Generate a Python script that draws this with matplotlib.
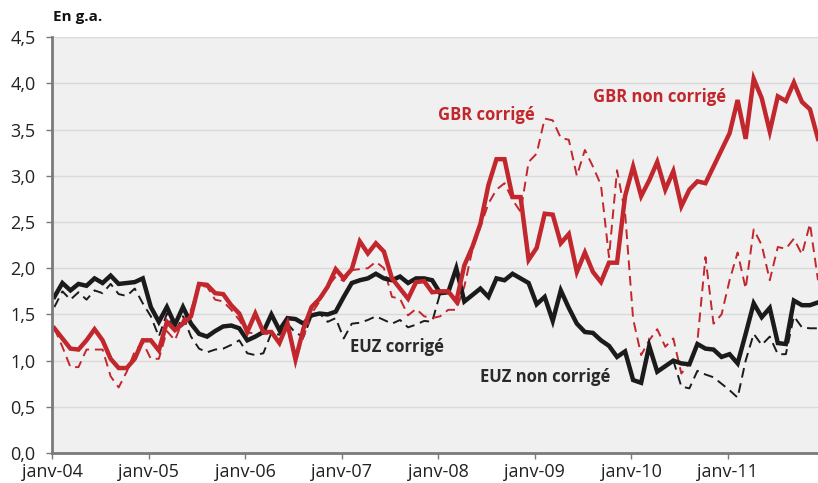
import numpy as np
import matplotlib.pyplot as plt

plt.rcParams['font.family'] = ['Open Sans', 'DejaVu Sans']

# monthly, janv-04 .. dec-11
euz_non_corrige = [1.69, 1.84, 1.76, 1.83, 1.81, 1.89, 1.84, 1.92, 1.83, 1.84, 1.85, 1.89,
                   1.58, 1.42, 1.58, 1.39, 1.58, 1.40, 1.29, 1.26, 1.32, 1.37, 1.38, 1.35,
                   1.22, 1.26, 1.31, 1.50, 1.33, 1.46, 1.45, 1.40, 1.49, 1.51, 1.50, 1.53,
                   1.69, 1.84, 1.87, 1.89, 1.94, 1.89, 1.87, 1.91, 1.84, 1.89, 1.89, 1.87,
                   1.73, 1.74, 2.00, 1.64, 1.71, 1.78, 1.69, 1.89, 1.87, 1.94, 1.89, 1.84,
                   1.61, 1.69, 1.43, 1.76, 1.57, 1.40, 1.31, 1.30, 1.22, 1.16, 1.04, 1.10,
                   0.79, 0.76, 1.16, 0.88, 0.94, 1.00, 0.97, 0.96, 1.18, 1.13, 1.12, 1.04,
                   1.07, 0.97, 1.29, 1.62, 1.47, 1.57, 1.19, 1.18, 1.65, 1.60, 1.60, 1.63]

euz_corrige = [1.58, 1.75, 1.66, 1.74, 1.66, 1.76, 1.73, 1.83, 1.72, 1.70, 1.78, 1.62,
               1.48, 1.26, 1.51, 1.30, 1.48, 1.26, 1.13, 1.09, 1.12, 1.13, 1.17, 1.22,
               1.08, 1.06, 1.08, 1.30, 1.28, 1.40, 1.30, 1.26, 1.48, 1.51, 1.42, 1.46,
               1.24, 1.40, 1.41, 1.44, 1.48, 1.44, 1.40, 1.44, 1.36, 1.39, 1.43, 1.42,
               1.73, 1.74, 2.00, 1.64, 1.71, 1.78, 1.69, 1.89, 1.87, 1.94, 1.89, 1.84,
               1.61, 1.69, 1.43, 1.76, 1.57, 1.40, 1.31, 1.30, 1.22, 1.16, 1.04, 1.10,
               0.79, 0.76, 1.16, 0.88, 0.94, 1.00, 0.72, 0.70, 0.89, 0.85, 0.82, 0.75,
               0.68, 0.60, 1.00, 1.29, 1.17, 1.26, 1.07, 1.07, 1.48, 1.36, 1.35, 1.35]

gbr_non_corrige = [1.35, 1.24, 1.13, 1.12, 1.22, 1.34, 1.22, 1.02, 0.92, 0.92, 1.02, 1.22,
                   1.22, 1.11, 1.42, 1.33, 1.40, 1.48, 1.83, 1.82, 1.73, 1.72, 1.60, 1.51,
                   1.31, 1.51, 1.31, 1.31, 1.19, 1.40, 1.01, 1.35, 1.58, 1.67, 1.80, 1.99,
                   1.89, 1.99, 2.29, 2.16, 2.27, 2.18, 1.89, 1.78, 1.67, 1.85, 1.86, 1.74,
                   1.75, 1.75, 1.64, 2.03, 2.23, 2.48, 2.90, 3.18, 3.18, 2.77, 2.77, 2.09,
                   2.22, 2.59, 2.58, 2.27, 2.37, 1.96, 2.17, 1.96, 1.85, 2.06, 2.06, 2.78,
                   3.10, 2.78, 2.95, 3.15, 2.85, 3.05, 2.67, 2.85, 2.94, 2.92, 3.10, 3.28,
                   3.46, 3.82, 3.40, 4.05, 3.84, 3.48, 3.86, 3.81, 4.01, 3.80, 3.72, 3.40]

gbr_corrige = [1.35, 1.15, 0.93, 0.93, 1.12, 1.12, 1.12, 0.83, 0.71, 0.88, 1.10, 1.20,
               1.02, 1.02, 1.32, 1.22, 1.44, 1.55, 1.81, 1.80, 1.66, 1.64, 1.55, 1.44,
               1.30, 1.30, 1.29, 1.29, 1.22, 1.36, 1.01, 1.26, 1.51, 1.64, 1.80, 1.91,
               1.86, 1.98, 1.99, 2.00, 2.07, 2.00, 1.69, 1.67, 1.49, 1.56, 1.48, 1.46,
               1.48, 1.55, 1.55, 1.80, 2.20, 2.45, 2.70, 2.85, 2.92, 2.74, 2.61, 3.15,
               3.24, 3.62, 3.60, 3.41, 3.39, 3.00, 3.28, 3.10, 2.90, 2.12, 3.06, 2.60,
               1.45, 1.06, 1.22, 1.34, 1.15, 1.24, 0.86, 0.97, 1.21, 2.12, 1.40, 1.50,
               1.87, 2.17, 1.78, 2.42, 2.25, 1.87, 2.23, 2.21, 2.32, 2.15, 2.48, 1.87]

years = ['04', '05', '06', '07', '08', '09', '10', '11']
tick_labels = ['janv-' + y for y in years]

red = '#c1272d'
black = '#1b1b1b'

x = np.arange(len(euz_non_corrige)) + 0.25

fig = plt.figure(figsize=(8.18, 4.83), dpi=100)
ax = fig.add_axes([0.064, 0.062, 0.936, 0.861])
ax.set_facecolor('#f0f0f0')

ax.plot(x, euz_corrige, color=black, lw=1.4, dashes=(5, 3))
ax.plot(x, gbr_corrige, color=red, lw=1.4, dashes=(5, 3))
ax.plot(x, euz_non_corrige, color=black, lw=3.2, solid_joinstyle='miter')
ax.plot(x, gbr_non_corrige, color=red, lw=3.2, solid_joinstyle='miter')

ax.set_xlim(0, x[-1])
ax.set_ylim(0, 4.5)
yt = np.arange(0, 4.51, 0.5)
ax.set_yticks(yt)
ax.set_yticklabels([f'{v:.1f}'.replace('.', ',') for v in yt])
ax.set_xticks(np.arange(len(years)) * 12)
ax.set_xticklabels(tick_labels)
ax.grid(axis='y', color='#d9d9d9', lw=1)
ax.set_axisbelow(True)

for s in ['top', 'right']:
    ax.spines[s].set_visible(False)
for s in ['left', 'bottom']:
    ax.spines[s].set_color('#7a7a7a')
    ax.spines[s].set_linewidth(2)
ax.tick_params(axis='both', colors='#7a7a7a', labelcolor='#222222', labelsize=13, length=4, width=1)
ax.tick_params(axis='y', pad=8)
ax.tick_params(axis='x', pad=3)

fig.text(0.065, 0.965, 'En g.a.', fontsize=11, fontweight='bold', color='#111111', va='center')


def lab(px, py, s, c):
    fig.text(px / 818, 1 - py / 483, s, fontsize=12, fontweight='bold', color=c, ha='center', va='center')


lab(486, 115, 'GBR corrigé', red)
lab(660, 97, 'GBR non corrigé', red)
lab(397, 347, 'EUZ corrigé', '#2a2a2a')
lab(545, 377, 'EUZ non corrigé', '#2a2a2a')

fig.savefig('out.png', dpi=100)
